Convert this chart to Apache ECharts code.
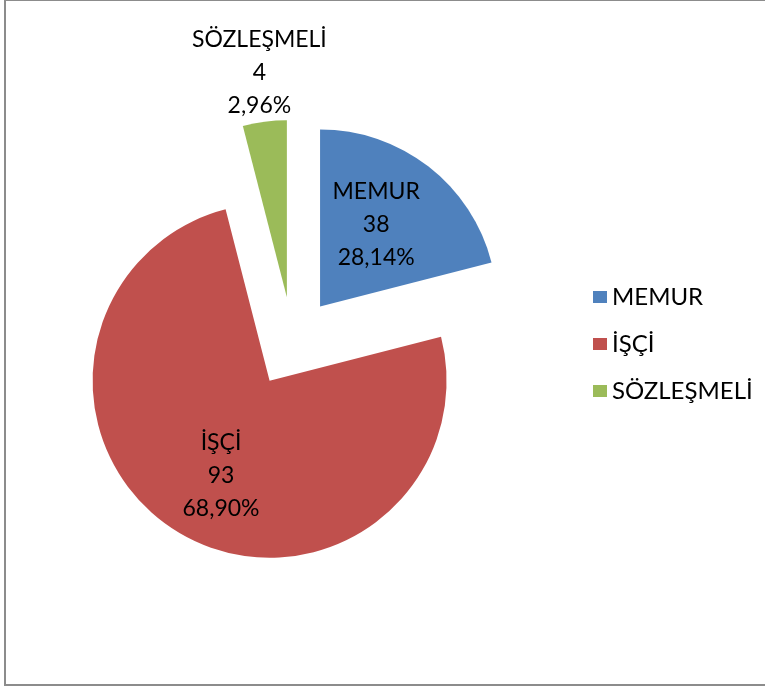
<!DOCTYPE html>
<html>
<head>
<meta charset="utf-8">
<script src="https://cdn.jsdelivr.net/npm/echarts@6/dist/echarts.min.js"></script>
<style>
  html, body { margin: 0; padding: 0; background: #fff; overflow: hidden; }
  #main { position: absolute; left: 0; top: 0; width: 765px; height: 688px; }
  #frame { position: absolute; left: 4px; top: -1px; width: 800px; height: 683px;
           border: 2px solid #8c8c8c; pointer-events: none; }
</style>
</head>
<body>
<div id="main"></div>
<div id="frame"></div>
<script>
// kategoriler
var categories = ['MEMUR', 'İŞÇİ', 'SÖZLEŞMELİ'];
// etiketlerde yazan sayilar ve yuzdeler
var counts = [38, 93, 4];
var percentLabels = ['28,14%', '68,90%', '2,96%'];
// dilimlerin cizimdeki buyuklugu (resimdeki yaylardan okundu, etiketlerle tutmuyor)
var sliceShares = [21, 75, 4];
var colors = ['#4F81BD', '#C0504D', '#9BBB59'];

var fontFamily = 'Lato, "Open Sans", sans-serif';

// etiket kaydirmalari (dilim ortasindan)
var labelOffsets = [[0, -10], [-2, 16], [-16, -134]];

var pieData = [];
for (var i = 0; i < categories.length; i++) {
    pieData.push({
        name: categories[i],
        value: sliceShares[i],
        selected: true,
        itemStyle: { color: colors[i] }
    });
}

var myChart = echarts.init(document.getElementById('main'));
var option = {
    animation: false,
    backgroundColor: '#fff',
    legend: {
        orient: 'vertical',
        left: 593,
        top: 282,
        padding: 0,
        itemWidth: 14,
        itemHeight: 12,
        itemGap: 17,
        icon: 'rect',
        selectedMode: false,
        data: categories,
        textStyle: { fontFamily: fontFamily, fontSize: 24, color: '#000', lineHeight: 30 }
    },
    series: [{
        type: 'pie',
        center: [292.5, 342],
        radius: 177,
        startAngle: 90,
        clockwise: true,
        selectedMode: 'multiple',
        selectedOffset: 45,
        avoidLabelOverlap: false,
        emphasis: { disabled: true },
        label: {
            show: true,
            position: 'inside',
            fontFamily: fontFamily,
            fontSize: 23,
            lineHeight: 33,
            color: '#000',
            align: 'center',
            formatter: function (p) {
                var k = p.dataIndex;
                return categories[k] + '\n' + counts[k] + '\n' + percentLabels[k];
            }
        },
        labelLayout: function (p) {
            var o = labelOffsets[p.dataIndex];
            return { dx: o[0], dy: o[1] };
        },
        labelLine: { show: false },
        data: pieData
    }]
};
myChart.setOption(option);
</script>
</body>
</html>
